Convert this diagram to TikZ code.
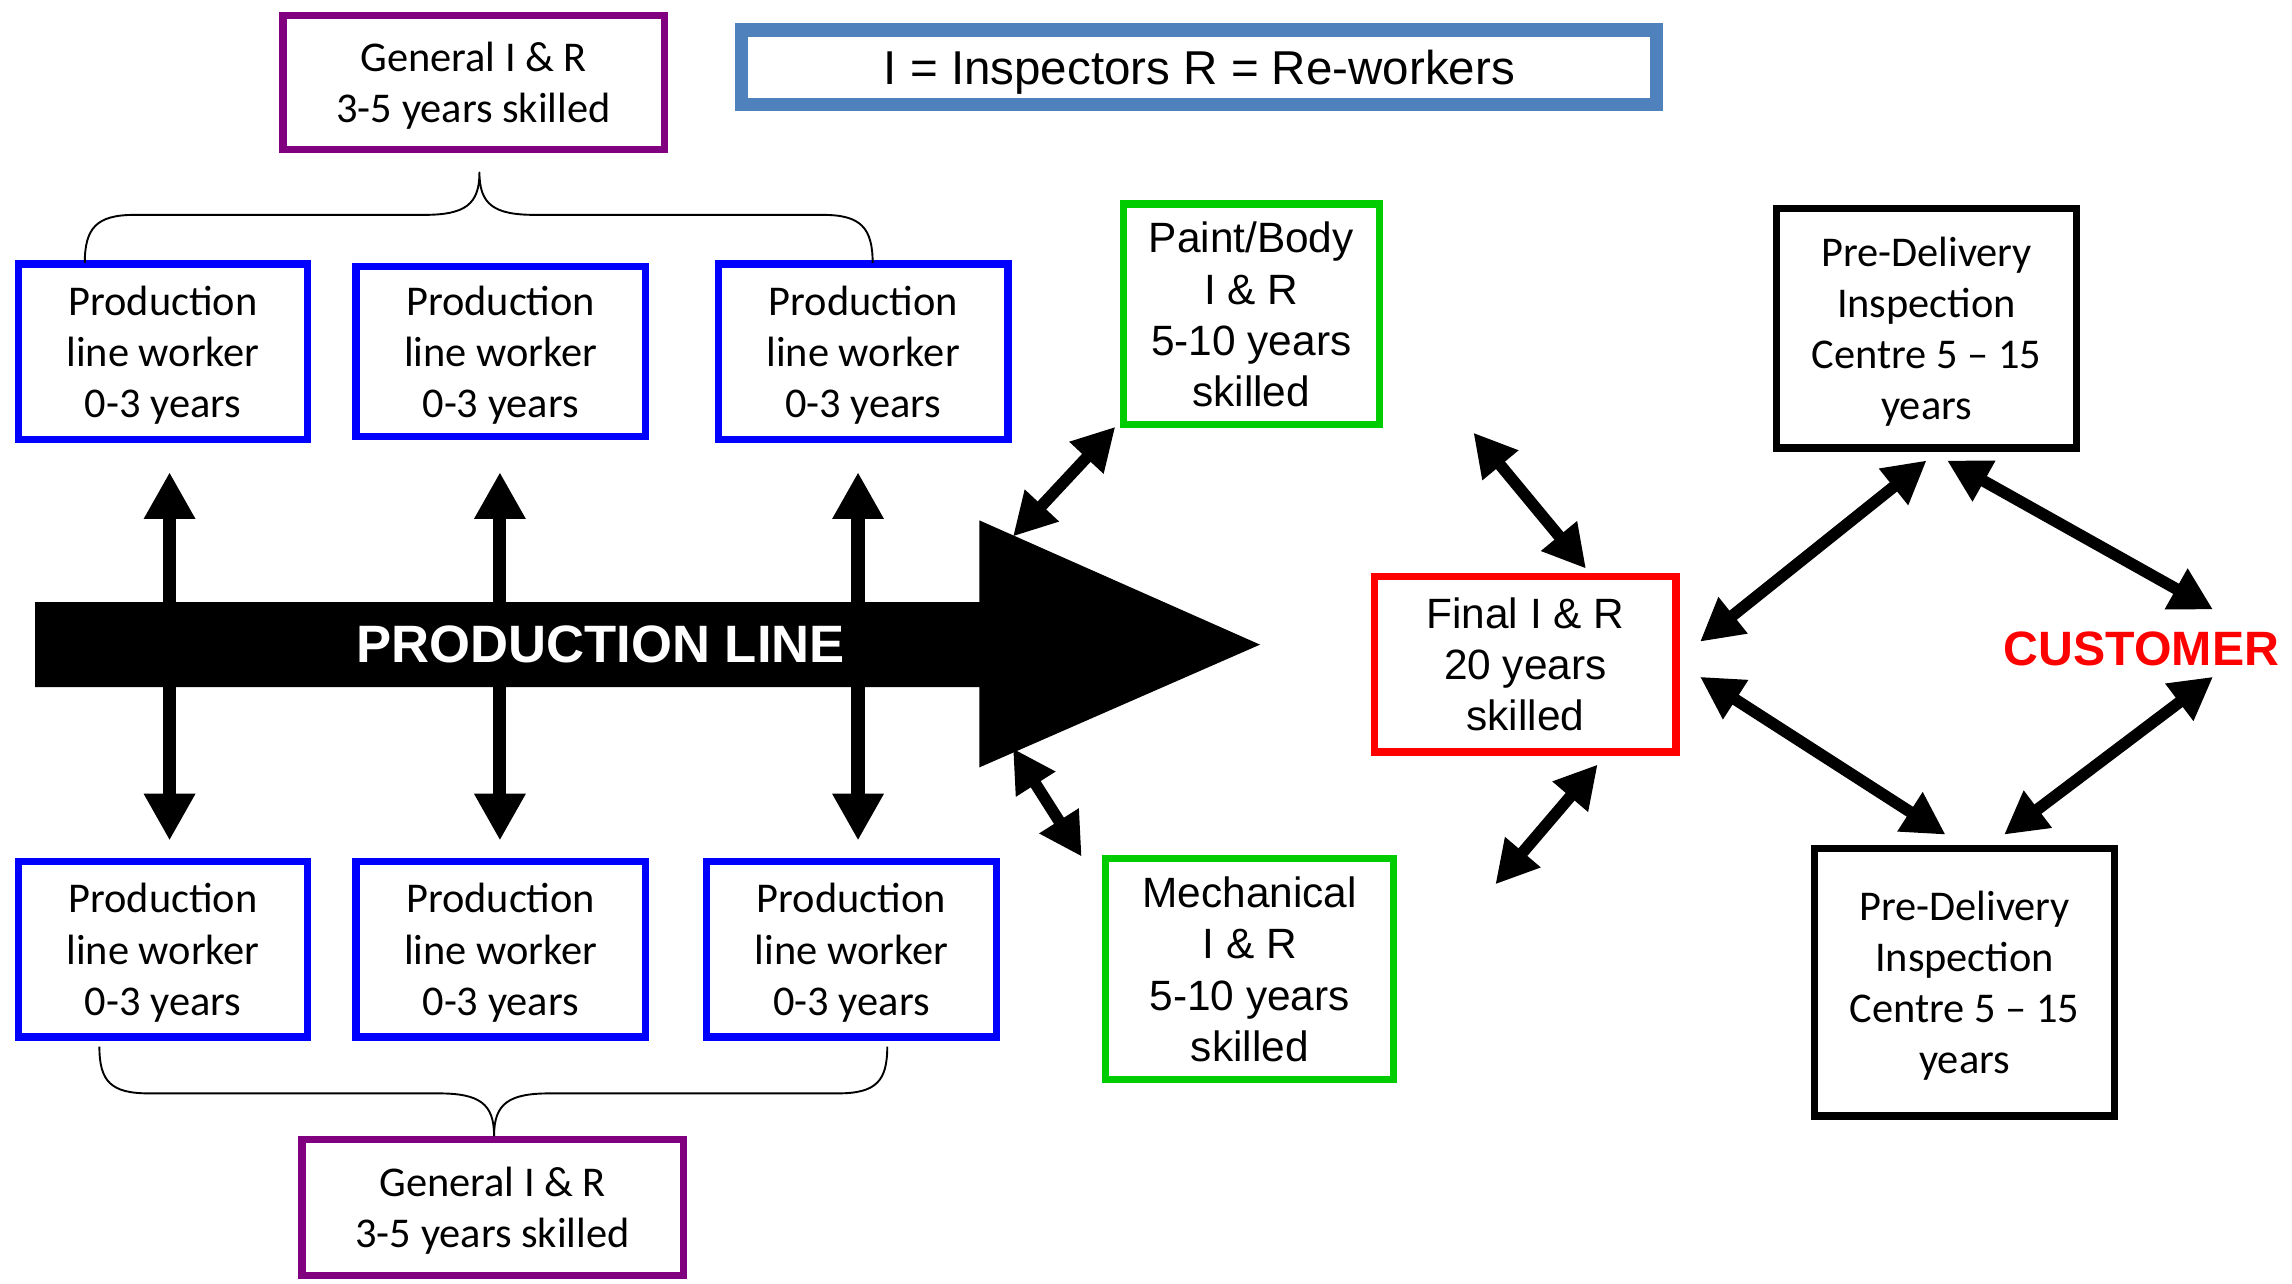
\documentclass[tikz,border=0pt]{standalone}
\usepackage{fontspec}
\usetikzlibrary{arrows.meta}
\newfontfamily\calfont{Carlito}
\newfontfamily\arifont{Liberation Sans}
\definecolor{cpurple}{RGB}{128,0,128}
\definecolor{clegend}{RGB}{79,129,189}
\definecolor{cblue}{RGB}{0,0,255}
\definecolor{cgreen}{RGB}{0,204,0}
\definecolor{cred}{RGB}{255,0,0}
\begin{document}
\begin{tikzpicture}[x=1pt,y=-1pt,
 box/.style={draw, line width=5pt, align=center, inner sep=0pt, fill=white, text=black, text depth=0pt},
 calt/.style={font=\calfont\fontsize{29}{35}\selectfont},
 arit/.style={font=\arifont\fontsize{29}{35}\selectfont},
 prodbox/.style={box, draw=cblue, calt, minimum width=198pt, minimum height=120pt},
 genbox/.style={box, draw=cpurple, calt, minimum width=261pt, minimum height=92pt},
 skillbox/.style={box, draw=cgreen, arit, minimum height=151pt},
 pdibox/.style={box, draw=black, calt, minimum width=205pt},
 vdbl/.style={line width=9pt, {Triangle[length=32pt,width=33pt]}-{Triangle[length=32pt,width=33pt]}},
 ddbl/.style={line width=8pt, {Triangle[length=29pt,width=30pt]}-{Triangle[length=29pt,width=30pt]}},
 bracepath/.style={line width=1.3pt, line join=round},
]
\useasboundingbox (0,0) rectangle (1568,878);
\fill[white] (0,0) rectangle (1568,878);

% legend
\node[box, draw=clegend, line width=9pt, minimum width=626pt, minimum height=51pt,
      font=\arifont\fontsize{32.5}{36}\selectfont] (legend) at (820.5,46) {I = Inspectors R = Re-workers};

% general boxes
\node[genbox] (gen1) at (324,56.5) {General I \& R\\3-5 years skilled};
\node[genbox, minimum height=93pt] (gen2) at (337,826) {General I \& R\\3-5 years skilled};

% production line worker boxes
\node[prodbox] (p1) at (111.5,240.5) {Production\\line worker\\0-3 years};
\node[prodbox, minimum height=116pt] (p2) at (342.5,240.5) {Production\\line worker\\0-3 years};
\node[prodbox] (p3) at (590.5,240.5) {Production\\line worker\\0-3 years};
\node[prodbox] (p4) at (111.5,649.5) {Production\\line worker\\0-3 years};
\node[prodbox] (p5) at (342.5,649.5) {Production\\line worker\\0-3 years};
\node[prodbox] (p6) at (582.5,649.5) {Production\\line worker\\0-3 years};

% braces
\draw[bracepath] (58,180) .. controls (58,156) and (66,147) .. (92,147) -- (290,147)
  .. controls (318,147) and (328,140) .. (328,118)
  .. controls (328,140) and (338,147) .. (366,147) -- (563,147)
  .. controls (589,147) and (597,156) .. (597,180);
\draw[bracepath] (68,716) .. controls (68,740) and (76,748) .. (102,748) -- (300,748)
  .. controls (328,748) and (338,755) .. (338,777)
  .. controls (338,755) and (348,748) .. (376,748) -- (573,748)
  .. controls (599,748) and (607,740) .. (607,716);

% vertical arrows
\coordinate (v1t) at (116,323); \coordinate (v1b) at (116,575);
\coordinate (v2t) at (342,323); \coordinate (v2b) at (342,575);
\coordinate (v3t) at (587,323); \coordinate (v3b) at (587,575);
\draw[vdbl] (v1t) -- (v1b);
\draw[vdbl] (v2t) -- (v2b);
\draw[vdbl] (v3t) -- (v3b);

% production line arrow
\fill[black] (24,412) -- (670,412) -- (670,356) -- (862,441) -- (670,525) -- (670,470) -- (24,470) -- cycle;
\node[font=\arifont\bfseries\fontsize{36}{40}\selectfont, text=white, inner sep=0pt] (pl) at (411,441) {PRODUCTION LINE};

% skill boxes
\node[skillbox, minimum width=175pt] (paint) at (856,215) {Paint/Body\\I \& R\\ 5-10 years\\skilled};
\node[skillbox, minimum width=197pt] (mech) at (855,663) {Mechanical\\I \& R\\5-10 years\\skilled};

% final
\node[box, draw=cred, arit, minimum width=206pt, minimum height=120pt] (final) at (1043.5,454.5) {Final I \& R\\20 years\\skilled};

% pre-delivery
\node[pdibox, minimum height=164pt] (pdi1) at (1318,224.5) {Pre-Delivery\\Inspection\\Centre 5 – 15\\years};
\node[pdibox, minimum height=183pt] (pdi2) at (1344,672) {Pre-Delivery\\Inspection\\Centre 5 – 15\\years};

% customer
\node[font=\arifont\bfseries\fontsize{33}{38}\selectfont, text=cred, inner sep=0pt] (cust) at (1465,444) {CUSTOMER};

% diagonal arrows
\coordinate (d1a) at (693,367); \coordinate (d1b) at (763,292);
\coordinate (d2a) at (693,512); \coordinate (d2b) at (740,586);
\coordinate (d3a) at (1008,296); \coordinate (d3b) at (1085,389);
\coordinate (d4a) at (1093,523); \coordinate (d4b) at (1023,605);
\coordinate (d5a) at (1163,439); \coordinate (d5b) at (1318,315);
\coordinate (d6a) at (1332,315); \coordinate (d6b) at (1514,417);
\coordinate (d7a) at (1163,463); \coordinate (d7b) at (1331,571);
\coordinate (d8a) at (1514,463); \coordinate (d8b) at (1371,571);
\draw[ddbl] (d1a) -- (d1b);
\draw[ddbl] (d2a) -- (d2b);
\draw[ddbl] (d3a) -- (d3b);
\draw[ddbl] (d4a) -- (d4b);
\draw[ddbl] (d5a) -- (d5b);
\draw[ddbl] (d6a) -- (d6b);
\draw[ddbl] (d7a) -- (d7b);
\draw[ddbl] (d8a) -- (d8b);
\end{tikzpicture}
\end{document}
